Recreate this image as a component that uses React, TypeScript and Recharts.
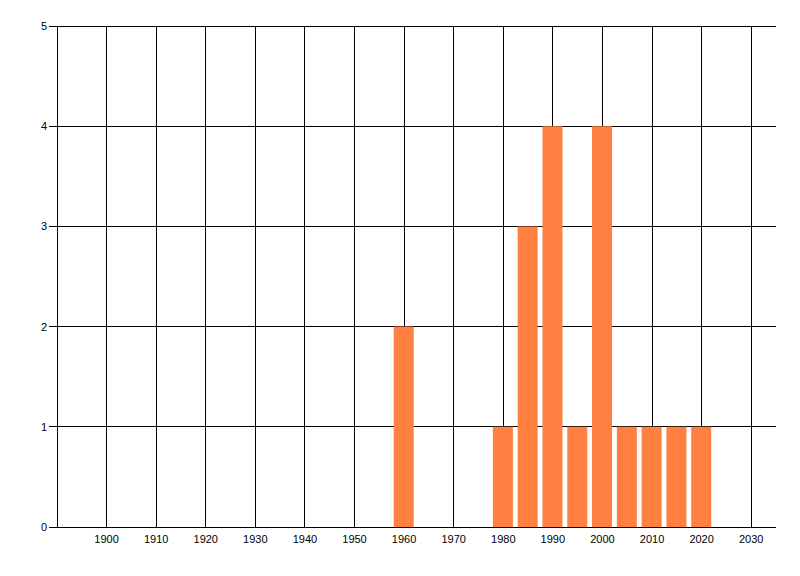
import { BarChart, Bar, XAxis, YAxis, CartesianGrid } from "recharts";

const years = [1960, 1980, 1985, 1990, 1995, 2000, 2005, 2010, 2015, 2020];
const counts = [2, 1, 3, 4, 1, 4, 1, 1, 1, 1];
const xTicks = [1900, 1910, 1920, 1930, 1940, 1950, 1960, 1970, 1980, 1990, 2000, 2010, 2020, 2030];
const yTicks = [0, 1, 2, 3, 4, 5];
const xDomain: [number, number] = [1890, 2035];

const data = years.map((year, i) => ({ year, count: counts[i] }));

const tickStyle = { fill: "#000", fontSize: 11, fontFamily: "Liberation Sans, Arial, sans-serif" };
const lineStyle = { stroke: "#000", shapeRendering: "crispEdges" };

// grid lines only at the labelled years, no border on the right edge
const verticalLines = ({ offset }: any) =>
  xTicks.map(
    (t) => offset.left + ((t - xDomain[0]) / (xDomain[1] - xDomain[0])) * offset.width
  );

export default function App() {
  return (
    <div style={{ position: "absolute", left: 0, top: 0, width: 800, height: 576, background: "#fff" }}>
      <BarChart
        width={800}
        height={576}
        data={data}
        margin={{ top: 26, right: 24, bottom: 19, left: 0 }}
      >
        <CartesianGrid
          stroke="#000"
          strokeWidth={1}
          shapeRendering="crispEdges"
          verticalCoordinatesGenerator={verticalLines}
        />
        <XAxis
          dataKey="year"
          type="number"
          domain={xDomain}
          ticks={xTicks}
          allowDataOverflow
          height={30}
          tickLine={false}
          axisLine={lineStyle}
          tick={tickStyle}
        />
        <YAxis
          type="number"
          domain={[0, 5]}
          ticks={yTicks}
          width={57}
          tickSize={8}
          tickLine={lineStyle}
          axisLine={lineStyle}
          tick={tickStyle}
        />
        <Bar dataKey="count" fill="#FF8040" barSize={20} isAnimationActive={false} />
      </BarChart>
    </div>
  );
}
